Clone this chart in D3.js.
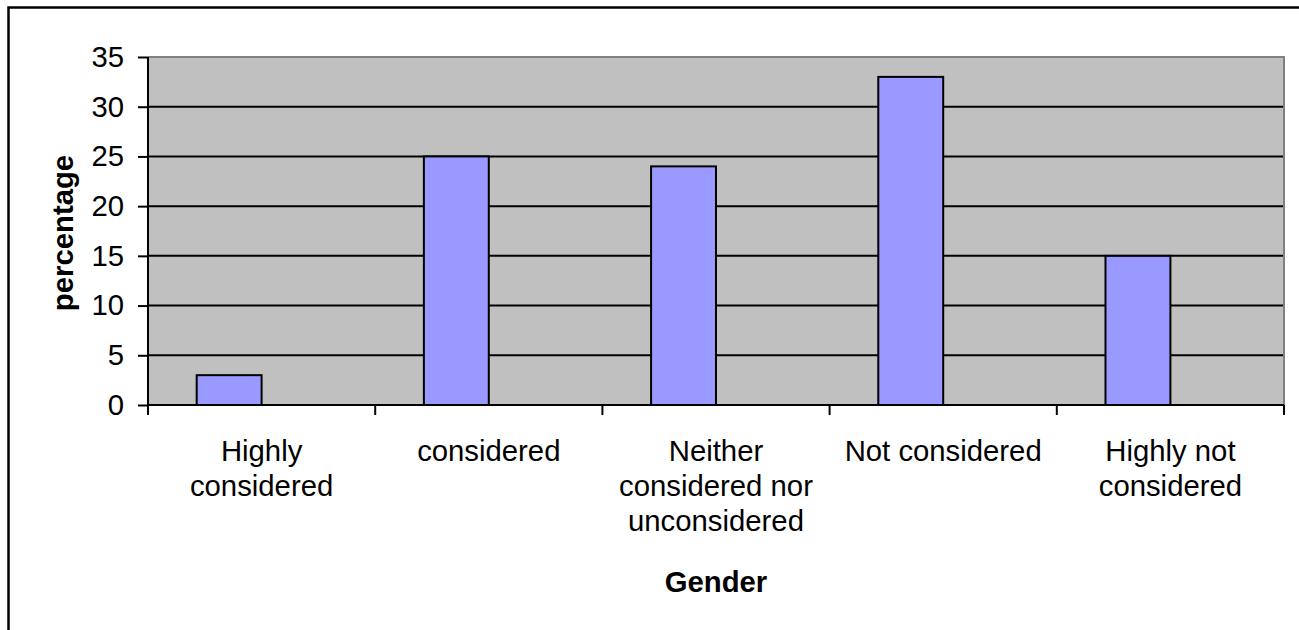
<!DOCTYPE html>
<html>
<head>
<meta charset="utf-8">
<script src="https://cdn.jsdelivr.net/npm/d3@7"></script>
<style>
  html, body { margin: 0; padding: 0; background: #ffffff; }
  svg { display: block; }
  text { font-family: "Liberation Sans", Arial, sans-serif; fill: #000; }
</style>
</head>
<body>
<svg id="chart" width="1299" height="630"></svg>
<script>
// Survey responses (percentage of respondents per answer)
const categories = [
  "Highly\nconsidered",
  "considered",
  "Neither\nconsidered nor\nunconsidered",
  "Not considered",
  "Highly not\nconsidered"
];
const values = [3, 25, 24, 33, 15];
const yTicks = [0, 5, 10, 15, 20, 25, 30, 35];
const yTitle = "percentage";
const xTitle = "Gender";

const svg = d3.select("#chart");
const plot = { left: 148, top: 57, right: 1284, bottom: 405 };
const fontSize = 29.3;

// Outer chart frame (continues past the right and bottom edges)
svg.append("rect")
  .attr("x", 8.5).attr("y", 7.5)
  .attr("width", 1400).attr("height", 700)
  .attr("fill", "#fff").attr("stroke", "#000").attr("stroke-width", 2.5);

const x = d3.scaleBand()
  .domain(categories)
  .range([plot.left, plot.right])
  .paddingInner(0).paddingOuter(0);

// Each cluster holds two slots with a 150% gap; the data fills the first slot
const slot = d3.scaleBand()
  .domain([0, 1])
  .range([0, x.bandwidth()])
  .paddingInner(0).paddingOuter(0.75);

const y = d3.scaleLinear()
  .domain([0, 35])
  .range([plot.bottom, plot.top]);

// Plot area background
svg.append("rect")
  .attr("x", plot.left).attr("y", plot.top)
  .attr("width", plot.right - plot.left)
  .attr("height", plot.bottom - plot.top)
  .attr("fill", "#C0C0C0");

// Horizontal gridlines
svg.append("g")
  .selectAll("line")
  .data(yTicks.filter(d => d > 0 && d < 35))
  .join("line")
  .attr("x1", plot.left).attr("x2", plot.right)
  .attr("y1", d => y(d)).attr("y2", d => y(d))
  .attr("stroke", "#000").attr("stroke-width", 2);

// Plot area border (top and right)
svg.append("path")
  .attr("d", `M${plot.left},${plot.top}H${plot.right}V${plot.bottom}`)
  .attr("fill", "none").attr("stroke", "#808080").attr("stroke-width", 2);

// Bars
svg.append("g")
  .selectAll("rect")
  .data(values)
  .join("rect")
  .attr("x", (d, i) => x(categories[i]) + slot(0))
  .attr("width", slot.bandwidth())
  .attr("y", d => y(d))
  .attr("height", d => y(0) - y(d))
  .attr("fill", "#9999FF")
  .attr("stroke", "#000")
  .attr("stroke-width", 2);

// Y axis
const yAxis = d3.axisLeft(y)
  .tickValues(yTicks)
  .tickSize(10)
  .tickPadding(14)
  .tickFormat(d3.format("d"));
const gy = svg.append("g")
  .attr("transform", `translate(${plot.left},0)`)
  .call(yAxis);
gy.select(".domain").attr("stroke", "#000").attr("stroke-width", 2)
  .attr("d", `M0,${plot.top}V${plot.bottom}`);
gy.selectAll(".tick line").attr("stroke", "#000").attr("stroke-width", 2);
gy.selectAll(".tick text")
  .attr("font-size", fontSize)
  .attr("font-family", '"Liberation Sans", Arial, sans-serif')
  .attr("fill", "#000");

// X axis: ticks on category boundaries
const gx = svg.append("g")
  .attr("transform", `translate(0,${plot.bottom})`);
gx.append("line")
  .attr("x1", plot.left).attr("x2", plot.right)
  .attr("stroke", "#000").attr("stroke-width", 2);
const boundaries = categories.map(c => x(c)).concat([x(categories[categories.length - 1]) + x.bandwidth()]);
gx.selectAll("line.tick")
  .data(boundaries)
  .join("line")
  .attr("class", "tick")
  .attr("x1", d => d).attr("x2", d => d)
  .attr("y1", 0).attr("y2", 10)
  .attr("stroke", "#000").attr("stroke-width", 2);

// Category labels (multi-line)
const lineHeight = 35;
const labels = svg.append("g");
categories.forEach(c => {
  const lines = c.split("\n");
  const t = labels.append("text")
    .attr("x", x(c) + x.bandwidth() / 2)
    .attr("y", 461)
    .attr("text-anchor", "middle")
    .attr("font-size", fontSize);
  lines.forEach((ln, j) => {
    t.append("tspan")
      .attr("x", x(c) + x.bandwidth() / 2)
      .attr("y", 461 + j * lineHeight)
      .text(ln);
  });
});

// Axis titles
svg.append("text")
  .attr("transform", `translate(73,${(plot.top + plot.bottom) / 2 + 2}) rotate(-90)`)
  .attr("text-anchor", "middle")
  .attr("font-size", fontSize)
  .attr("font-weight", "bold")
  .text(yTitle);

svg.append("text")
  .attr("x", (plot.left + plot.right) / 2)
  .attr("y", 592)
  .attr("text-anchor", "middle")
  .attr("font-size", fontSize)
  .attr("font-weight", "bold")
  .text(xTitle);
</script>
</body>
</html>
